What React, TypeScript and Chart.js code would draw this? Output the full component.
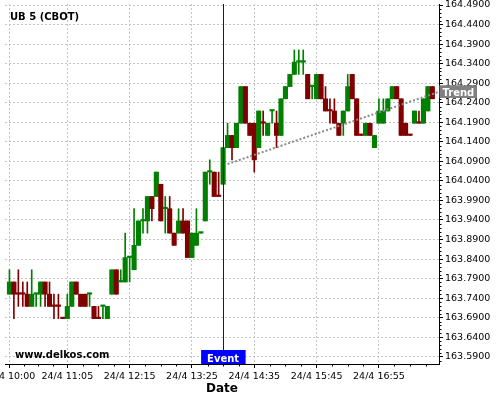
import React, { useEffect, useRef } from 'react';
import { Chart, registerables } from 'chart.js';

Chart.register(...registerables);

// ---- data (5-minute bars, 24/4 10:00 .. 17:55) ----
const OPEN = [
  163.75, 163.7813, 163.75, 163.75, 163.75, 163.7188, 163.75, 163.75, 163.7813, 163.75,
  163.7188, 163.7188, 163.6875, 163.6875, 163.7188, 163.7813, 163.75, 163.75, 163.75, 163.7188,
  163.6875, 163.7188, 163.6875, 163.75, 163.8125, 163.7813, 163.7813, 163.8438, 163.8125, 163.875,
  163.9375, 163.9375, 164.0, 164.0, 164.0313, 163.9688, 163.9688, 163.9063, 163.9063, 163.9375,
  163.9375, 163.8438, 163.875, 163.9063, 163.9375, 164.0625, 164.0625, 164.0, 164.0313, 164.125,
  164.1563, 164.125, 164.1875, 164.2813, 164.1875, 164.1875, 164.125, 164.1875, 164.1563, 164.2188,
  164.1875, 164.1563, 164.25, 164.2813, 164.3125, 164.3438, 164.3438, 164.3125, 164.2813, 164.25,
  164.3125, 164.25, 164.2188, 164.2188, 164.1875, 164.1875, 164.2188, 164.3125, 164.25, 164.1563,
  164.1563, 164.1875, 164.125, 164.1875, 164.1875, 164.2188, 164.25, 164.2813, 164.25, 164.1875,
  164.1563, 164.1875, 164.1875, 164.1875, 164.2188, 164.2813,
];
const HIGH = [
  163.8125, 163.7813, 163.8125, 163.7813, 163.7813, 163.8125, 163.75, 163.7813, 163.7813, 163.7813,
  163.75, 163.75, 163.6875, 163.75, 163.7813, 163.7813, 163.75, 163.75, 163.75, 163.7188,
  163.7188, 163.7188, 163.7188, 163.8125, 163.8125, 163.8125, 163.9063, 163.8438, 163.9688, 163.9375,
  163.9688, 164.0, 164.0, 164.0625, 164.0313, 164.0, 164.0, 163.9063, 163.9688, 163.9688,
  163.9375, 163.9063, 163.9688, 163.9063, 164.0625, 164.0938, 164.0625, 164.0625, 164.125, 164.1875,
  164.1563, 164.1875, 164.2813, 164.2813, 164.1875, 164.1875, 164.2188, 164.2188, 164.1875, 164.2188,
  164.2188, 164.25, 164.2813, 164.3125, 164.375, 164.375, 164.375, 164.3125, 164.2813, 164.3125,
  164.3125, 164.2813, 164.25, 164.25, 164.1875, 164.2188, 164.3125, 164.3125, 164.25, 164.1563,
  164.1875, 164.1875, 164.1563, 164.25, 164.25, 164.25, 164.2813, 164.2813, 164.25, 164.1875,
  164.1563, 164.2188, 164.2188, 164.25, 164.2813, 164.2813,
];
const LOW = [
  163.75, 163.6875, 163.7188, 163.7188, 163.7188, 163.7188, 163.7188, 163.7188, 163.7188, 163.7188,
  163.6875, 163.6875, 163.6875, 163.6875, 163.7188, 163.75, 163.7188, 163.7188, 163.7188, 163.6875,
  163.6875, 163.6875, 163.6875, 163.75, 163.75, 163.7813, 163.7813, 163.7813, 163.8125, 163.875,
  163.9063, 163.9063, 163.9375, 164.0, 163.9375, 163.9063, 163.9063, 163.875, 163.9063, 163.9063,
  163.8438, 163.8438, 163.875, 163.9063, 163.9375, 164.0313, 164.0, 164.0, 164.0313, 164.125,
  164.0938, 164.125, 164.1875, 164.1875, 164.1563, 164.0625, 164.125, 164.1563, 164.1563, 164.1875,
  164.125, 164.1563, 164.25, 164.2813, 164.3125, 164.3125, 164.3125, 164.25, 164.25, 164.25,
  164.25, 164.2188, 164.1875, 164.1875, 164.1563, 164.1563, 164.2188, 164.25, 164.1563, 164.1563,
  164.1563, 164.1563, 164.125, 164.1875, 164.1875, 164.2188, 164.25, 164.25, 164.1563, 164.1563,
  164.1563, 164.1875, 164.1875, 164.1875, 164.2188, 164.25,
];
const CLOSE = [
  163.7813, 163.75, 163.75, 163.75, 163.7188, 163.75, 163.75, 163.7813, 163.75, 163.7188,
  163.7188, 163.7188, 163.6875, 163.7188, 163.7813, 163.75, 163.7188, 163.7188, 163.75, 163.6875,
  163.6875, 163.7188, 163.7188, 163.8125, 163.75, 163.7813, 163.8438, 163.8438, 163.875, 163.9375,
  163.9375, 164.0, 163.9688, 164.0625, 163.9375, 163.9688, 163.9063, 163.875, 163.9375, 163.9063,
  163.8438, 163.9063, 163.9063, 163.9063, 164.0625, 164.0625, 164.0, 164.0, 164.125, 164.1563,
  164.125, 164.1875, 164.2813, 164.1875, 164.1563, 164.0938, 164.2188, 164.1875, 164.1875, 164.2188,
  164.1563, 164.25, 164.2813, 164.3125, 164.3438, 164.3438, 164.3438, 164.25, 164.2813, 164.3125,
  164.25, 164.2188, 164.2188, 164.1875, 164.1563, 164.2188, 164.2813, 164.25, 164.1563, 164.1563,
  164.1875, 164.1563, 164.1563, 164.2188, 164.2188, 164.25, 164.2813, 164.25, 164.1563, 164.1563,
  164.1563, 164.2188, 164.1875, 164.25, 164.2813, 164.25,
];
// bars where open == close that are drawn in the "up" colour
const DOJI_UP = [6, 18, 21, 25, 27, 30, 35, 43, 45, 59, 65, 66, 68];

const X_TICK_INDEX = [0, 13, 27, 41, 55, 69, 83];
const X_TICK_LABELS = ['24/4 10:00', '24/4 11:05', '24/4 12:15', '24/4 13:25', '24/4 14:35', '24/4 15:45', '24/4 16:55'];
const Y_TICKS = [
  163.59, 163.64, 163.69, 163.74, 163.79, 163.84, 163.89, 163.94, 163.99, 164.04,
  164.09, 164.14, 164.19, 164.24, 164.29, 164.34, 164.39, 164.44, 164.49,
];
const TREND_X = [49, 96.5];
const TREND_Y = [164.083, 164.268];
const EVENT_INDEX = 48;
const EVENT_LABEL = 'Event';
const TREND_LABEL = 'Trend';
const TITLE = 'UB 5 (CBOT)';
const WATERMARK = 'www.delkos.com';
const X_TITLE = 'Date';

const UP = '#008000';
const DOWN = '#800000';
const FONT = 'DejaVu Sans';

function barColor(i: number) {
  if (CLOSE[i] > OPEN[i]) return UP;
  if (CLOSE[i] < OPEN[i]) return DOWN;
  return DOJI_UP.includes(i) ? UP : DOWN;
}

const overlayPlugin = {
  id: 'overlay',
  afterDatasetsDraw(chart: any) {
    const { ctx, chartArea: a, scales } = chart;
    const ex = Math.round(scales.x.getPixelForValue(EVENT_INDEX)) + 0.5;
    ctx.save();
    ctx.strokeStyle = '#0000ff';
    ctx.lineWidth = 1;
    ctx.beginPath();
    ctx.moveTo(ex, a.top);
    ctx.lineTo(ex, a.bottom);
    ctx.stroke();
    ctx.restore();
  },
  afterDraw(chart: any) {
    const { ctx, chartArea: a, scales } = chart;
    const xs = scales.x;
    const ys = scales.y;
    ctx.save();
    // minor ticks on x axis
    ctx.strokeStyle = '#000';
    ctx.lineWidth = 1;
    const majors = [...X_TICK_INDEX, X_TICK_INDEX[X_TICK_INDEX.length - 1] + 14];
    ctx.beginPath();
    for (let m = 0; m < majors.length - 1; m++) {
      for (let q = 1; q < 4; q++) {
        const v = majors[m] + ((majors[m + 1] - majors[m]) * q) / 4;
        if (v > xs.max) continue;
        const px = Math.round(xs.getPixelForValue(v)) + 0.5;
        ctx.moveTo(px, a.bottom);
        ctx.lineTo(px, a.bottom + 2.5);
      }
    }
    // minor ticks on y axis
    for (let k = 0; k < 100; k++) {
      const v = 163.57 + k * 0.01;
      if (v < ys.min || v > ys.max) continue;
      if (Math.abs(((v - 163.59) / 0.05) - Math.round((v - 163.59) / 0.05)) < 0.01) continue;
      const py = Math.round(ys.getPixelForValue(v)) + 0.5;
      ctx.moveTo(a.right, py);
      ctx.lineTo(a.right + 2.5, py);
    }
    ctx.stroke();

    // title and watermark
    ctx.fillStyle = '#000';
    ctx.font = `bold 10px "${FONT}"`;
    ctx.textAlign = 'left';
    ctx.textBaseline = 'alphabetic';
    ctx.fillText(TITLE, 10, 19.5);
    ctx.fillText(WATERMARK, 15, 357.5);

    // event label
    const ex = xs.getPixelForValue(EVENT_INDEX);
    ctx.fillStyle = '#0000ff';
    ctx.fillRect(ex - 22, a.bottom - 14, 44.5, 14);
    ctx.fillStyle = '#fff';
    ctx.textAlign = 'center';
    ctx.fillText(EVENT_LABEL, ex, a.bottom - 2.5);

    // trend label
    const ty = ys.getPixelForValue(TREND_Y[TREND_Y.length - 1]);
    ctx.fillStyle = '#808080';
    ctx.fillRect(a.right + 0.5, ty - 6.5, 37.5, 12.7);
    ctx.fillStyle = '#fff';
    ctx.textAlign = 'left';
    ctx.fillText(TREND_LABEL, a.right + 3.5, ty + 4.2);
    ctx.restore();
  },
};

export default function App() {
  const ref = useRef<HTMLCanvasElement>(null);
  useEffect(() => {
    const canvas = ref.current;
    if (!canvas) return;
    const idx = OPEN.map((_, i) => i);
    const chart = new Chart(canvas, {
      type: 'bar',
      data: {
        datasets: [
          {
            type: 'line',
            data: TREND_X.map((x, i) => ({ x, y: TREND_Y[i] })),
            borderColor: '#8a8a8a',
            borderWidth: 2,
            borderDash: [2, 2],
            pointRadius: 0,
            fill: false,
          } as any,
          {
            type: 'bar',
            data: idx.map((i) => ({ x: i, y: [OPEN[i], CLOSE[i]] })),
            backgroundColor: idx.map(barColor),
            borderWidth: 0,
            grouped: false,
            barPercentage: 1,
            categoryPercentage: 1,
            minBarLength: 1.5,
          } as any,
          {
            type: 'bar',
            data: idx.map((i) => ({ x: i, y: [LOW[i], HIGH[i]] })),
            backgroundColor: idx.map(barColor),
            borderWidth: 0,
            grouped: false,
            barPercentage: 1,
            categoryPercentage: 1,
            maxBarThickness: 1,
          } as any,
        ],
      },
      options: {
        responsive: false,
        animation: false,
        devicePixelRatio: 1,
        layout: { padding: { left: 5, top: 4, right: 0, bottom: 0 } },
        plugins: { legend: { display: false }, tooltip: { enabled: false }, title: { display: false } },
        scales: {
          x: {
            type: 'linear',
            position: 'bottom',
            min: -1,
            max: 96.5,
            offset: false,
            afterBuildTicks: (s: any) => {
              s.ticks = X_TICK_INDEX.map((v) => ({ value: v }));
            },
            afterFit: (s: any) => {
              s.height = 36;
              s.paddingLeft = 0;
              s.paddingRight = 0;
            },
            ticks: {
              autoSkip: false,
              maxRotation: 0,
              minRotation: 0,
              padding: 3,
              color: '#000',
              font: { family: FONT, size: 9.5 },
              callback: (_v: any, i: number) => X_TICK_LABELS[i],
            },
            grid: { color: '#c4c4c4', lineWidth: 1, tickColor: '#000', tickLength: 4, offset: false },
            border: { color: '#000', width: 1, dash: [2, 2] },
            title: {
              display: true,
              text: X_TITLE,
              color: '#000',
              font: { family: FONT, size: 12, weight: 'bold' },
              padding: { top: 0, bottom: 4 },
            },
          } as any,
          y: {
            type: 'linear',
            position: 'right',
            min: 163.5714,
            max: 164.4926,
            afterBuildTicks: (s: any) => {
              s.ticks = Y_TICKS.map((v) => ({ value: v }));
            },
            afterFit: (s: any) => {
              s.width = 61;
              s.paddingTop = 0;
              s.paddingBottom = 0;
            },
            ticks: {
              padding: 2,
              color: '#000',
              font: { family: FONT, size: 9.5 },
              callback: (v: any) => Number(v).toFixed(4),
            },
            grid: { color: '#c4c4c4', lineWidth: 1, tickColor: '#000', tickLength: 4 },
            border: { color: '#000', width: 1, dash: [2, 2] },
          } as any,
        },
      },
      plugins: [overlayPlugin],
    });
    return () => chart.destroy();
  }, []);
  return (
    <div style={{ position: 'fixed', left: 0, top: 0, width: 500, height: 400, background: '#fff' }}>
      <canvas ref={ref} width={500} height={400} style={{ display: 'block', width: 500, height: 400 }} />
    </div>
  );
}
